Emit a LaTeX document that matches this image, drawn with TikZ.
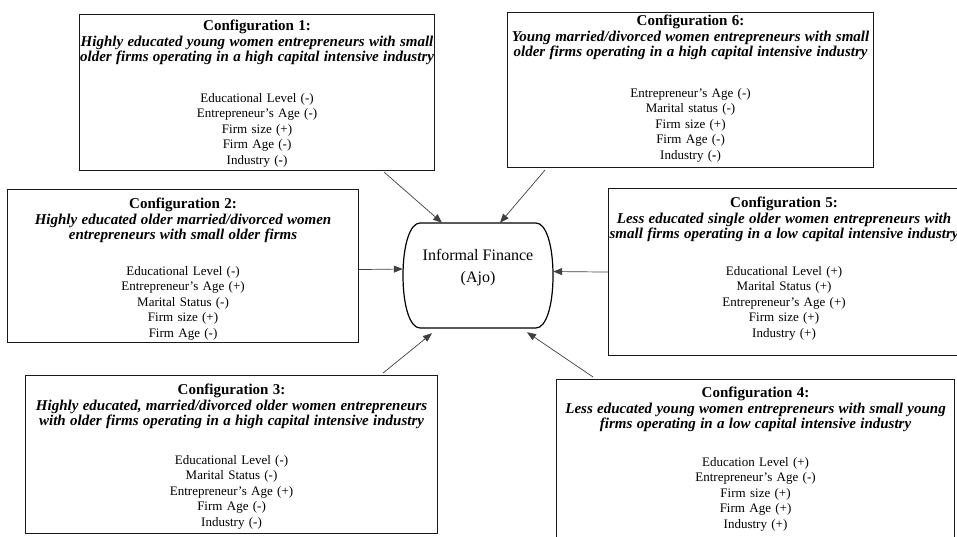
\documentclass[tikz,border=0pt]{standalone}
\usepackage{fontspec}
\setmainfont{Liberation Serif}
\usetikzlibrary{arrows.meta,positioning}

\newcommand{\cfghead}[1]{{\fontsize{15}{15.5}\selectfont\bfseries #1}}
\newcommand{\cfgdesc}[1]{{\fontsize{15}{15.5}\selectfont\bfseries\itshape #1}}

\begin{document}
\begin{tikzpicture}[x=1pt,y=-1pt]
	\tikzstyle{Config}	= [draw=black!90, line width=1.1pt, anchor=north west, inner sep=0pt]
	\tikzstyle{Items}	= [align=center, text width=420pt, inner sep=0pt, font=\fontsize{13}{15.5}\selectfont]
	\tikzstyle{Hub}		= [line width=1.2pt, line join=round]
	\tikzstyle{Link}	= [draw=black!75, line width=0.7pt, -{Triangle[length=9pt,width=7pt]}]

	\useasboundingbox (0,0) rectangle (957,536);
	\clip (0,0) rectangle (957,536);

	% configuration boxes
	\node (c1) at (79,14)   [Config, minimum width=355pt, minimum height=156pt] {};
	\node (c6) at (507,12)  [Config, minimum width=366pt, minimum height=155pt] {};
	\node (c2) at (7,189)   [Config, minimum width=351pt, minimum height=153pt] {};
	\node (c5) at (608,188) [Config, minimum width=351pt, minimum height=167pt] {};
	\node (c3) at (25,375)  [Config, minimum width=412pt, minimum height=158pt] {};
	\node (c4) at (556,379) [Config, minimum width=398pt, minimum height=171pt] {};

	\node (t1) [Items, below=6pt of c1.north] {\cfghead{Configuration 1:}\\
		\cfgdesc{Highly educated young women entrepreneurs with small}\\
		\cfgdesc{older firms operating in a high capital intensive industry}\\[25pt]
		Educational Level (-)\\ Entrepreneur’s Age (-)\\ Firm size (+)\\ Firm Age (-)\\ Industry (\textbf{-})};
	\node (t6) [Items, below=3pt of c6.north] {\cfghead{Configuration 6:}\\
		\cfgdesc{Young married/divorced women entrepreneurs with small}\\
		\cfgdesc{older firms operating in a high capital intensive industry}\\[25pt]
		Entrepreneur’s Age (-)\\ Marital status (-)\\ Firm size (+)\\ Firm Age (-)\\ Industry (\textbf{-})};
	\node (t2) [Items, below=9pt of c2.north] {\cfghead{Configuration 2:}\\
		\cfgdesc{Highly educated older married/divorced women}\\
		\cfgdesc{entrepreneurs with small older firms}\\[20pt]
		Educational Level (-)\\ Entrepreneur’s Age (+)\\ Marital Status (-)\\ Firm size (+)\\ Firm Age (-)};
	\node (t5) [Items, below=9pt of c5.north] {\cfghead{Configuration 5:}\\
		\cfgdesc{Less educated single older women entrepreneurs with}\\
		\cfgdesc{small firms operating in a low capital intensive industry}\\[21pt]
		Educational Level (+)\\ Marital Status (+)\\ Entrepreneur’s Age (+)\\ Firm size (+)\\ Industry (+)};
	\node (t3) [Items, below=9pt of c3.north] {\cfghead{Configuration 3:}\\
		\cfgdesc{Highly educated, married/divorced older women entrepreneurs}\\
		\cfgdesc{with older firms operating in a high capital intensive industry}\\[23pt]
		Educational Level (-)\\ Marital Status (-)\\ Entrepreneur’s Age (+)\\ Firm Age (-)\\ Industry (-)};
	\node (t4) [Items, below=8pt of c4.north] {\cfghead{Configuration 4:}\\
		\cfgdesc{Less educated young women entrepreneurs with small young}\\
		\cfgdesc{firms operating in a low capital intensive industry}\\[22pt]
		Education Level (+)\\ Entrepreneur’s Age (-)\\ Firm size (+)\\ Firm Age (+)\\ Industry (+)};

	% informal finance
	\node (fin) at (478,275.5) [minimum width=150pt, minimum height=105pt, inner sep=0pt] {};
	\draw [Hub] (420,223) -- (536,223) .. controls (546,223) and (553,245) .. (553,275.5)
		.. controls (553,306) and (546,328) .. (536,328) -- (420,328)
		.. controls (410,328) and (403,306) .. (403,275.5)
		.. controls (403,245) and (410,223) .. (420,223) -- cycle;
	\node (finlbl) [below=26pt of fin.north, align=center, inner sep=0pt, font=\fontsize{16}{22}\selectfont] {Informal Finance\\(Ajo)};

	\draw [Link] ([xshift=-51pt,yshift=-1pt]c1.south east) -- ([xshift=-36pt]fin.north);
	\draw [Link] ([xshift=38pt,yshift=-2pt]c6.south west) -- ([xshift=22pt]fin.north);
	\draw [Link] ([yshift=-3.5pt]c2.east) -- ([yshift=6.5pt]fin.west);
	\draw [Link] (c5.west) -- ([yshift=4pt]fin.east);
	\draw [Link] ([xshift=-55pt,yshift=2pt]c3.north east) -- ([xshift=-46pt,yshift=-5pt]fin.south);
	\draw [Link] ([xshift=37pt,yshift=2pt]c4.north west) -- ([xshift=49pt,yshift=-4pt]fin.south);
\end{tikzpicture}
\end{document}
